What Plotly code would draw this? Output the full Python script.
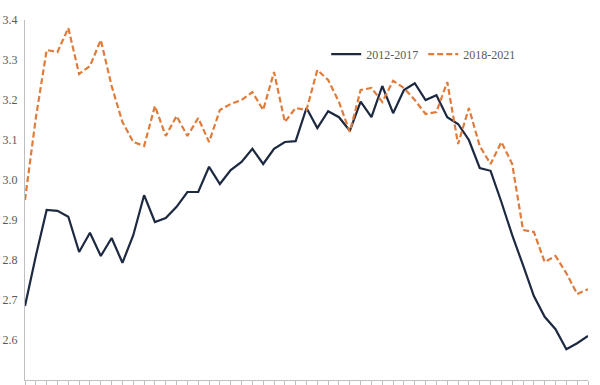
import plotly.graph_objects as go

weeks = list(range(1, 54))
s_2012_2017 = [2.685, 2.81, 2.925, 2.923, 2.908, 2.82, 2.868, 2.81, 2.855, 2.793,
               2.862, 2.962, 2.895, 2.905, 2.933, 2.97, 2.97, 3.033, 2.99, 3.025,
               3.045, 3.078, 3.04, 3.078, 3.095, 3.097, 3.18, 3.13, 3.172, 3.157,
               3.123, 3.196, 3.157, 3.235, 3.167, 3.225, 3.242, 3.2, 3.212, 3.157,
               3.14, 3.1, 3.03, 3.023, 2.945, 2.862, 2.787, 2.71, 2.658, 2.627,
               2.577, 2.592, 2.61]
s_2018_2021 = [2.95, 3.155, 3.325, 3.32, 3.38, 3.265, 3.285, 3.35, 3.235, 3.145,
               3.095, 3.085, 3.185, 3.11, 3.16, 3.11, 3.155, 3.095, 3.175, 3.19,
               3.2, 3.22, 3.175, 3.27, 3.145, 3.18, 3.175, 3.275, 3.25, 3.195,
               3.12, 3.225, 3.23, 3.195, 3.248, 3.23, 3.2, 3.165, 3.17, 3.245,
               3.09, 3.18, 3.085, 3.04, 3.095, 3.04, 2.875, 2.87, 2.795, 2.81,
               2.767, 2.715, 2.727]
y_ticks = [2.5, 2.6, 2.7, 2.8, 2.9, 3.0, 3.1, 3.2, 3.3, 3.4]

font_family = "Liberation Serif"

fig = go.Figure()
fig.add_trace(go.Scatter(x=weeks, y=s_2012_2017, mode="lines", name="2012-2017",
                         line=dict(color="#1c2940", width=2.2)))
fig.add_trace(go.Scatter(x=weeks, y=s_2018_2021, mode="lines", name="2018-2021",
                         line=dict(color="#e07b39", width=2.2, dash="6px,3px")))

fig.update_layout(
    width=600, height=385,
    margin=dict(l=25, r=12, t=20, b=5),
    paper_bgcolor="white", plot_bgcolor="white",
    font=dict(family=font_family, size=12, color="#595959"),
    showlegend=True,
    legend=dict(orientation="h", x=0.535, y=0.905, xanchor="left", yanchor="middle",
                bgcolor="rgba(0,0,0,0)", font=dict(size=12, color="#595959"),
                itemwidth=30, tracegroupgap=0),
    xaxis=dict(range=[1, 53], showgrid=False, zeroline=False, showline=True,
               linecolor="#bfbfbf", linewidth=1, ticks="outside", ticklen=4,
               tickcolor="#bfbfbf", tickvals=weeks, showticklabels=False,
               automargin=False),
    yaxis=dict(range=[2.5, 3.4], tickvals=y_ticks, tickformat=".1f",
               showgrid=False, zeroline=False, showline=True, linecolor="#bfbfbf",
               linewidth=1, ticks="", ticklabelstandoff=4, automargin=False),
)

fig.write_html("out.html", config={"displayModeBar": False},
               post_script="document.body.style.margin='0px';document.body.style.overflow='hidden';")
